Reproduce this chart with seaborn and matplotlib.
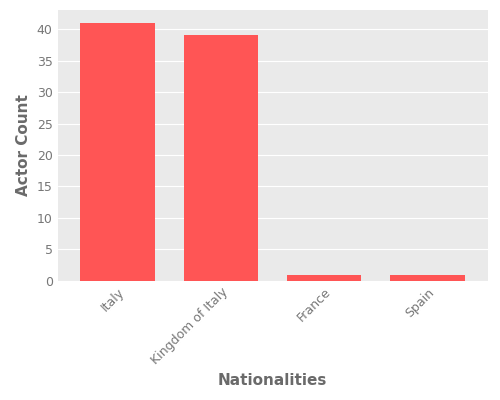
import matplotlib
matplotlib.use("Agg")
import matplotlib.pyplot as plt
import pandas as pd
import seaborn as sns

nationalities = ["Italy", "Kingdom of Italy", "France", "Spain"]
actor_counts = [41, 39, 1, 1]

df = pd.DataFrame({"nationality": nationalities, "count": actor_counts})

sns.set_style("darkgrid", {"axes.facecolor": "#EAEAEA", "grid.color": "white"})
fig, ax = plt.subplots(figsize=(5, 4), dpi=100)
fig.subplots_adjust(left=0.115, right=0.975, top=0.975, bottom=0.298)

sns.barplot(data=df, x="nationality", y="count", color="#FF5555", saturation=1,
            width=0.72, linewidth=0, ax=ax)

ax.set_xlim(-0.58, 3.58)
ax.set_yticks(range(0, 45, 5))
ax.set_xlabel("Nationalities", color="#6A6A6A", fontsize=11, fontweight="semibold", labelpad=4)
ax.set_ylabel("Actor Count", color="#6A6A6A", fontsize=11, fontweight="semibold")
ax.tick_params(axis="both", colors="#777777", labelsize=9, length=0)
plt.setp(ax.get_xticklabels(), rotation=45, ha="right", rotation_mode="anchor")
for s in ax.spines.values():
    s.set_visible(False)

fig.savefig("out.png")
